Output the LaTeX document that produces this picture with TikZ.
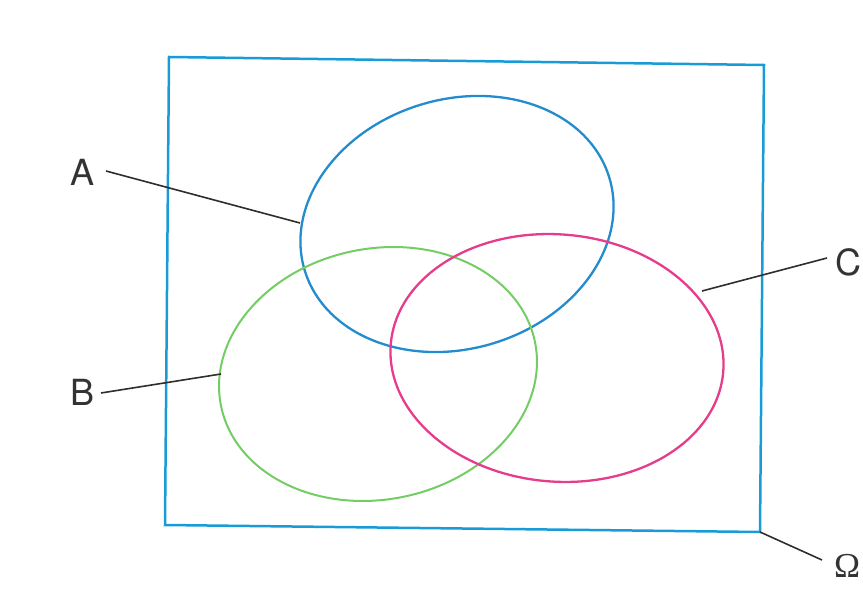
\documentclass[tikz,border=0pt]{standalone}
\usepackage{fontspec}
\setmainfont{TeX Gyre Heros}
\newfontfamily\omegafont{Liberation Serif}
\usetikzlibrary{shapes.geometric}
\definecolor{setA}{RGB}{35,140,205}
\definecolor{setB}{RGB}{115,205,100}
\definecolor{setC}{RGB}{230,60,140}
\definecolor{univ}{RGB}{25,155,215}
\definecolor{leader}{RGB}{50,45,40}
\tikzset{
  setshape/.style={ellipse, inner sep=0pt, outer sep=0pt, line width=2.3pt},
  lbl/.style={inner sep=0pt, font=\fontsize{36}{36}\selectfont, text=black!80},
  leaderline/.style={draw=leader, line width=1.6pt},
}
\begin{document}
\begin{tikzpicture}[x=1pt,y=-1pt]
\useasboundingbox (0,0) rectangle (863,610);
% universe rectangle
\coordinate (tl) at (169,57);
\coordinate (tr) at (764,65);
\coordinate (br) at (760,532);
\coordinate (bl) at (165,525);
\draw[univ, line width=2.5pt, line join=miter] (tl) -- (tr) -- (br) -- (bl) -- cycle;
% sets
\node[setshape, draw=setA, minimum width=318.4pt, minimum height=249.4pt, rotate=17] (A) at (457,224) {};
\node[setshape, draw=setB, line width=2pt, minimum width=320.4pt, minimum height=250.8pt, rotate=11.5] (B) at (378,374) {};
\node[setshape, draw=setC, minimum width=333.6pt, minimum height=247.2pt, rotate=-4.8] (C) at (557,358) {};
% labels
\node[lbl] (labA) at (83,172) {A};
\node[lbl] (labB) at (83,392) {B};
\node[lbl] (labC) at (848,262) {C};
\node[lbl, font=\omegafont\fontsize{35}{35}\selectfont] (labO) at (847,566) {Ω};
% leader ends
\coordinate (a1) at (106,171);
\coordinate (a2) at (300,223);
\coordinate (b1) at (101,393);
\coordinate (b2) at (221,374);
\coordinate (c1) at (827,258);
\coordinate (c2) at (702,291);
\coordinate (o2) at (822,560);
\draw[leaderline] (a1) -- (a2);
\draw[leaderline] (b1) -- (b2);
\draw[leaderline] (c1) -- (c2);
\draw[leaderline] (br) -- (o2);
\end{tikzpicture}
\end{document}
